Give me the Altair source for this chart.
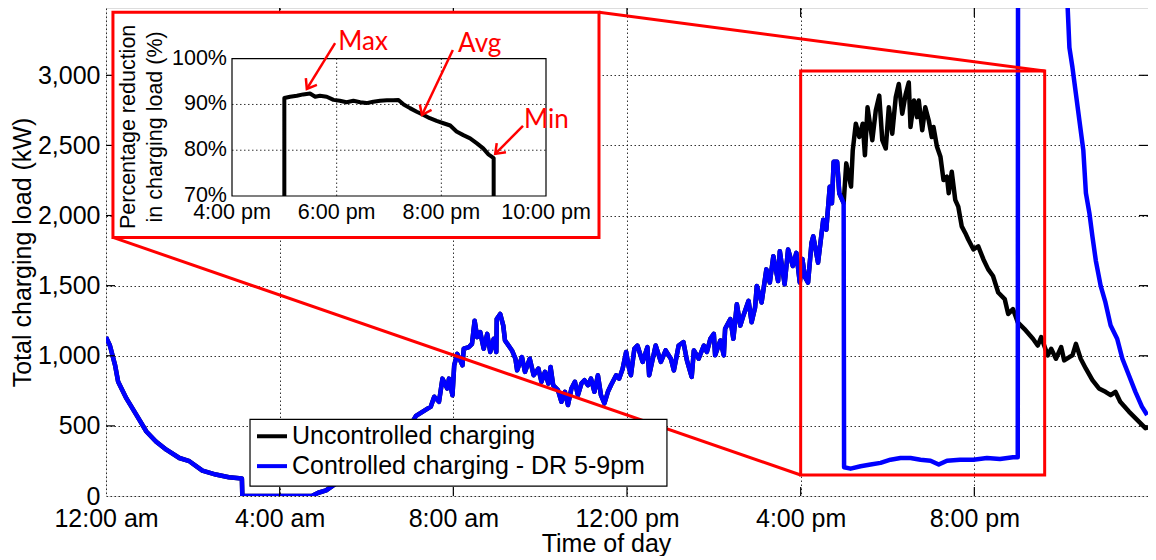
import math
import altair as alt
import pandas as pd

# ---------------- data ----------------
# Part where both series coincide (0:00 - 17:00)
common_hours = [0.00, 0.09, 0.21, 0.28, 0.47, 0.70, 0.93, 1.15, 1.39, 1.69, 1.92, 2.22, 2.53, 2.83, 3.13,
                3.14, 4.74, 4.89, 5.07, 5.30, 5.60, 5.90, 6.20, 6.50, 6.80, 7.00,
                7.14, 7.48, 7.56, 7.67, 7.75, 7.86, 7.90, 7.98, 8.02, 8.09, 8.21, 8.24, 8.36, 8.43,
                8.49, 8.55, 8.62, 8.70, 8.78, 8.85, 8.93, 8.99, 9.00, 9.08, 9.15, 9.19, 9.35, 9.43,
                9.47, 9.58, 9.65, 9.76, 9.85, 9.96, 10.03, 10.11, 10.19, 10.24, 10.30, 10.41, 10.49,
                10.57, 10.64, 10.72, 10.80, 10.87, 10.95, 11.02, 11.10, 11.17, 11.25, 11.33, 11.40,
                11.48, 11.56, 11.63, 11.75, 11.82, 11.90, 11.98, 12.04, 12.09, 12.17, 12.24, 12.36,
                12.47, 12.51, 12.66, 12.78, 12.89, 13.01, 13.08, 13.19, 13.30, 13.38, 13.49, 13.54,
                13.65, 13.77, 13.84, 13.92, 14.00, 14.03, 14.15, 14.23, 14.26, 14.38, 14.45, 14.53,
                14.61, 14.68, 14.80, 14.87, 14.95, 14.99, 15.10, 15.21, 15.29, 15.37, 15.48, 15.52,
                15.63, 15.71, 15.82, 15.90, 15.98, 16.04, 16.10, 16.17, 16.25, 16.29, 16.40, 16.52,
                16.59, 16.67, 16.72, 16.76, 16.84, 16.89, 16.99]
common_load = [1133, 1073, 932, 814, 696, 578, 460, 389, 330, 271, 248, 181, 153, 134, 125,
               0, 0, 23, 40, 90, 130, 180, 240, 320, 420, 500,
               571, 637, 708, 672, 837, 767, 837, 719, 932, 1014, 932, 1050, 1062, 1085,
               1250, 1133, 1168, 1050, 1156, 1027, 1121, 1027, 1262, 1298, 1215, 1109, 1038, 979,
               896, 991, 885, 979, 861, 908, 814, 885, 802, 920, 790, 755, 672,
               743, 649, 767, 814, 719, 802, 826, 790, 837, 743, 861, 719,
               661, 743, 790, 861, 837, 908, 1027, 920, 861, 1050, 1073, 956,
               1062, 861, 1073, 956, 1038, 979, 896, 1073, 1097, 967, 849, 1038,
               979, 1073, 1027, 1121, 1156, 1003, 1109, 1003, 1192, 1262, 1121, 1368,
               1215, 1286, 1392, 1239, 1345, 1498, 1380, 1616, 1522, 1710, 1533, 1746,
               1510, 1758, 1640, 1734, 1522, 1690, 1560, 1522, 1805, 1852, 1664, 1970,
               1899, 2206, 2088, 2383, 2383, 2159, 2088]

# Uncontrolled charging after 17:00
uncontrolled_hours = [17.05, 17.16, 17.20, 17.27, 17.35, 17.43, 17.48, 17.54, 17.65, 17.73, 17.81,
                      17.88, 17.96, 18.03, 18.11, 18.19, 18.26, 18.34, 18.42, 18.49, 18.53, 18.61,
                      18.68, 18.72, 18.80, 18.87, 18.95, 19.02, 19.06, 19.14, 19.22, 19.29, 19.37,
                      19.41, 19.48, 19.56, 19.63, 19.71, 19.79, 19.86, 19.98, 20.09, 20.21, 20.32,
                      20.43, 20.55, 20.70, 20.78, 20.89, 21.00, 21.15, 21.35, 21.46, 21.54, 21.69,
                      21.77, 21.88, 22.00, 22.07, 22.19, 22.26, 22.34, 22.45, 22.57, 22.72, 22.87,
                      23.02, 23.14, 23.25, 23.36, 23.56, 23.79, 23.94, 24.00]
uncontrolled_load = [2372, 2206, 2466, 2655, 2560, 2655, 2430, 2772, 2537, 2749, 2855,
                     2537, 2478, 2772, 2584, 2843, 2938, 2726, 2867, 2949, 2631, 2820,
                     2702, 2820, 2608, 2772, 2678, 2560, 2631, 2490, 2419, 2253, 2277,
                     2159, 2312, 2112, 2064, 1923, 1876, 1829, 1758, 1781, 1687, 1616,
                     1569, 1451, 1404, 1298, 1333, 1239, 1192, 1121, 1073, 1133, 1003,
                     1050, 979, 1062, 967, 991, 1003, 1085, 979, 908, 826, 767,
                     743, 719, 743, 672, 602, 531, 484, 490]

# Controlled charging (DR 5-9pm) after 17:00
controlled_hours = [17.00, 17.15, 17.38, 17.61, 17.84, 18.07, 18.30, 18.53, 18.76, 18.99, 19.18,
                    19.37, 19.67, 19.98, 20.29, 20.59, 20.89, 21.00, 21.01, 21.50, 22.00, 22.15,
                    22.19, 22.26, 22.34, 22.42, 22.51, 22.57, 22.65, 22.72, 22.80, 22.91, 23.02,
                    23.14, 23.29, 23.41, 23.56, 23.71, 23.86, 23.98]
controlled_load = [205, 195, 212, 224, 236, 259, 271, 271, 259, 252, 224,
                   252, 259, 259, 271, 264, 276, 276, 5600, 4900, 3950, 3480,
                   3197, 3056, 2867, 2678, 2466, 2160, 2018, 1850, 1675, 1498, 1380,
                   1215, 1121, 979, 861, 743, 637, 578]

series_names = ["Uncontrolled charging", "Controlled charging - DR 5-9pm"]
series_colors = ["#000000", "#0000ff"]

x_tick_values = [0, 4, 8, 12, 16, 20]
x_tick_labels = ["12:00 am", "4:00 am", "8:00 am", "12:00 pm", "4:00 pm", "8:00 pm"]
y_tick_values = [0, 500, 1000, 1500, 2000, 2500, 3000]

# Inset: percentage reduction in charging load
inset_hours = [17.00, 17.00, 17.11, 17.24, 17.36, 17.49, 17.59, 17.68, 17.81, 17.94, 18.06, 18.19,
               18.32, 18.45, 18.57, 18.70, 18.83, 18.96, 19.08, 19.18, 19.28, 19.40, 19.53, 19.66,
               19.78, 19.91, 20.04, 20.17, 20.29, 20.42, 20.55, 20.68, 20.80, 20.90, 21.00, 21.00]
inset_pct = [70.0, 91.4, 91.7, 91.9, 92.2, 92.4, 91.7, 91.9, 91.7, 91.0, 90.8, 90.5,
             90.8, 90.5, 90.3, 90.6, 90.8, 90.9, 90.9, 91.0, 90.0, 89.2, 88.4, 87.7,
             87.0, 86.4, 85.9, 85.4, 84.1, 83.3, 82.6, 81.5, 80.4, 79.1, 78.3, 70.0]
inset_x_values = [16, 18, 20, 22]
inset_x_labels = ["4:00 pm", "6:00 pm", "8:00 pm", "10:00 pm"]
inset_y_values = [70, 80, 90, 100]
inset_y_labels = ["70%", "80%", "90%", "100%"]
inset_title_lines = ["Percentage reduction", "in charging load (%)"]
inset_title_h = [14.14, 14.66]
inset_title_p = [85.1, 85.1]

annot_text = ["Max", "Avg", "Min"]
annot_text_h = [18.03, 20.32, 21.58]
annot_text_p = [101.9, 101.5, 84.8]
arrow_start_h = [17.97, 20.22, 21.56]
arrow_start_p = [103.4, 101.9, 85.3]
arrow_end_h = [17.43, 19.63, 21.03]
arrow_end_p = [93.4, 87.7, 79.2]

# Annotation boxes (main chart coordinates: hours, kW)
inset_box_hours = [0.16, 11.355]
inset_box_kw = [1844, 3450]
zoom_box_hours = [16.0, 21.62]
zoom_box_kw = [150, 3030]
legend_box_hours = [3.317, 12.92]
legend_box_kw = [71, 547]
legend_line_hours = [3.478, 4.169]
legend_text_hour = 4.284
legend_row_kw = [426, 213]

# ---------------- layout / style ----------------
W, H = 1042, 488
FONT = "Liberation Sans"
RED = "#ff0000"

x_scale = alt.Scale(domain=[0, 24], nice=False, zero=False)
y_scale = alt.Scale(domain=[0, 3480], nice=False, zero=False)

label_expr = " : ".join(f"datum.value == {v} ? '{l}'" for v, l in zip(x_tick_values, x_tick_labels)) + " : ''"

x_axis = alt.Axis(values=x_tick_values, labelExpr=label_expr, title="Time of day",
                  grid=True, gridColor="#000000", gridDash=[1.5, 2.5], gridOpacity=0.8, gridWidth=1,
                  domain=False, ticks=False, tickSize=0, labelPadding=10,
                  labelFont=FONT, labelFontSize=25, labelColor="#000000", labelFlush=False,
                  titleFont=FONT, titleFontSize=25, titleFontWeight="normal", titleColor="#000000",
                  titleX=500, titleY=55, titleBaseline="alphabetic", titleAlign="center")
y_axis = alt.Axis(values=y_tick_values, format=",d", title="Total charging load (kW)",
                  grid=True, gridColor="#000000", gridDash=[1.5, 2.5], gridOpacity=0.8, gridWidth=1,
                  domain=False, ticks=False, tickSize=0, labelPadding=6,
                  labelFont=FONT, labelFontSize=25, labelColor="#000000", labelFlush=False,
                  titleFont=FONT, titleFontSize=25, titleFontWeight="normal", titleColor="#000000",
                  titleAngle=270, titleX=-76, titleY=244, titleBaseline="alphabetic", titleAlign="center")


def X(f):
    return alt.X(f, type="quantitative", scale=x_scale, axis=x_axis)


def Y(f):
    return alt.Y(f, type="quantitative", scale=y_scale, axis=y_axis)


# ---------------- main data frames ----------------
unc_h = common_hours + uncontrolled_hours
unc_l = common_load + uncontrolled_load
ctl_h = common_hours + controlled_hours
ctl_l = common_load + controlled_load
df_unc = pd.DataFrame({"hour": unc_h, "kW": unc_l, "idx": range(len(unc_h))})
df_ctl = pd.DataFrame({"hour": ctl_h, "kW": ctl_l, "idx": range(len(ctl_h))})

line_unc = alt.Chart(df_unc).mark_line(color=series_colors[0], strokeWidth=4.5, clip=True,
                                       strokeJoin="round").encode(
    x=X("hour"), y=Y("kW"), order="idx:Q")
line_ctl = alt.Chart(df_ctl).mark_line(color=series_colors[1], strokeWidth=4.5, clip=True,
                                       strokeJoin="round").encode(
    x=X("hour"), y=Y("kW"), order="idx:Q")

# inward ticks (MATLAB style)
df_xt = pd.DataFrame({"hour": x_tick_values[1:]})
df_yt = pd.DataFrame({"kW": y_tick_values[1:]})
tick_style = dict(color="#000000", strokeWidth=1.2)
ticks = [
    alt.Chart(df_xt).mark_rule(**tick_style).encode(x=X("hour"), y=alt.value(H), y2=alt.value(H - 9)),
    alt.Chart(df_xt).mark_rule(**tick_style).encode(x=X("hour"), y=alt.value(0), y2=alt.value(9)),
    alt.Chart(df_yt).mark_rule(**tick_style).encode(y=Y("kW"), x=alt.value(0), x2=alt.value(9)),
    alt.Chart(df_yt).mark_rule(**tick_style).encode(y=Y("kW"), x=alt.value(W), x2=alt.value(W - 9)),
]

df_inset_box = pd.DataFrame({"h0": [inset_box_hours[0]], "h1": [inset_box_hours[1]],
                             "k0": [inset_box_kw[0]], "k1": [inset_box_kw[1]]})
inset_bg = alt.Chart(df_inset_box).mark_rect(fill="#ffffff", stroke=RED, strokeWidth=3).encode(
    x=X("h0"), x2="h1", y=Y("k0"), y2="k1")

df_zoom_box = pd.DataFrame({"h0": [zoom_box_hours[0]], "h1": [zoom_box_hours[1]],
                            "k0": [zoom_box_kw[0]], "k1": [zoom_box_kw[1]]})
zoom_rect = alt.Chart(df_zoom_box).mark_rect(fillOpacity=0, stroke=RED, strokeWidth=3).encode(
    x=X("h0"), x2="h1", y=Y("k0"), y2="k1")

df_conn = pd.DataFrame({
    "h0": [inset_box_hours[1], inset_box_hours[0]],
    "k0": [inset_box_kw[1], inset_box_kw[0]],
    "h1": [zoom_box_hours[1], zoom_box_hours[0]],
    "k1": [zoom_box_kw[1], zoom_box_kw[0]],
})
connectors = alt.Chart(df_conn).mark_rule(color=RED, strokeWidth=3).encode(
    x=X("h0"), y=Y("k0"), x2="h1", y2="k1")

df_leg_box = pd.DataFrame({"h0": [legend_box_hours[0]], "h1": [legend_box_hours[1]],
                           "k0": [legend_box_kw[0]], "k1": [legend_box_kw[1]]})
legend_box = alt.Chart(df_leg_box).mark_rect(fill="#ffffff", stroke="#000000", strokeWidth=1.2).encode(
    x=X("h0"), x2="h1", y=Y("k0"), y2="k1")
df_leg = pd.DataFrame({"h0": [legend_line_hours[0]] * 2, "h1": [legend_line_hours[1]] * 2,
                       "ht": [legend_text_hour] * 2, "kW": legend_row_kw,
                       "name": series_names, "color": series_colors})
legend_lines = alt.Chart(df_leg).mark_rule(strokeWidth=4).encode(
    x=X("h0"), x2="h1", y=Y("kW"), color=alt.Color("color:N", scale=None))
legend_text = alt.Chart(df_leg).mark_text(align="left", baseline="middle", font=FONT, fontSize=25,
                                          color="#000000").encode(
    x=X("ht"), y=Y("kW"), text="name:N")

main = alt.layer(line_unc, line_ctl, *ticks, inset_bg, zoom_rect, connectors,
                 legend_box, legend_lines, legend_text)

# ---------------- inset ----------------
ix_scale = alt.Scale(domain=[16, 22], range=[126, 440], nice=False, zero=False)
iy_scale = alt.Scale(domain=[70, 100], range=[188, 50.7], nice=False, zero=False)
px_h = (440 - 126) / (22 - 16)
px_p = (188 - 50.7) / (100 - 70)


def IX(f):
    return alt.X(f, type="quantitative", scale=ix_scale, axis=None)


def IY(f):
    return alt.Y(f, type="quantitative", scale=iy_scale, axis=None)


grid_style = dict(color="#000000", strokeWidth=1, strokeDash=[1.5, 2.5], opacity=0.8)
df_igx = pd.DataFrame({"ih": inset_x_values[1:-1], "p0": inset_y_values[0], "p1": inset_y_values[-1]})
df_igy = pd.DataFrame({"ip": inset_y_values[1:-1], "h0": inset_x_values[0], "h1": inset_x_values[-1]})
igrid_x = alt.Chart(df_igx).mark_rule(**grid_style).encode(x=IX("ih"), y=IY("p0"), y2="p1")
igrid_y = alt.Chart(df_igy).mark_rule(**grid_style).encode(y=IY("ip"), x=IX("h0"), x2="h1")

df_iframe = pd.DataFrame({"h0": [inset_x_values[0]], "h1": [inset_x_values[-1]],
                          "p0": [inset_y_values[0]], "p1": [inset_y_values[-1]]})
iframe = alt.Chart(df_iframe).mark_rect(fillOpacity=0, stroke="#000000", strokeWidth=1.2).encode(
    x=IX("h0"), x2="h1", y=IY("p0"), y2="p1")

df_iline = pd.DataFrame({"ih": inset_hours, "ip": inset_pct, "idx": range(len(inset_hours))})
iline = alt.Chart(df_iline).mark_line(color="#000000", strokeWidth=4, strokeJoin="round").encode(
    x=IX("ih"), y=IY("ip"), order="idx:Q")

df_ixl = pd.DataFrame({"ih": inset_x_values, "ip": inset_y_values[0], "t": inset_x_labels})
ixlabels = alt.Chart(df_ixl).mark_text(align="center", baseline="alphabetic", dy=23, font=FONT,
                                       fontSize=21.5, color="#000000").encode(
    x=IX("ih"), y=IY("ip"), text="t:N")
df_iyl = pd.DataFrame({"ip": inset_y_values, "ih": inset_x_values[0], "t": inset_y_labels})
iylabels = alt.Chart(df_iyl).mark_text(align="right", baseline="middle", dx=-5, font=FONT,
                                       fontSize=21.5, color="#000000").encode(
    x=IX("ih"), y=IY("ip"), text="t:N")
df_ititle = pd.DataFrame({"ih": inset_title_h, "ip": inset_title_p, "t": inset_title_lines})
ititle = alt.Chart(df_ititle).mark_text(angle=270, align="center", baseline="alphabetic", font=FONT,
                                        fontSize=21.5, color="#000000").encode(
    x=IX("ih"), y=IY("ip"), text="t:N")

angles = []
for sh, sp, eh, ep in zip(arrow_start_h, arrow_start_p, arrow_end_h, arrow_end_p):
    dx = (eh - sh) * px_h
    dy = -(ep - sp) * px_p
    angles.append(math.degrees(math.atan2(dx, -dy)) % 360)
df_arrow = pd.DataFrame({"h0": arrow_start_h, "p0": arrow_start_p, "h1": arrow_end_h,
                         "p1": arrow_end_p, "ang": angles})
arrow_shaft = alt.Chart(df_arrow).mark_rule(color=RED, strokeWidth=2.5).encode(
    x=IX("h0"), y=IY("p0"), x2="h1", y2="p1")
arrow_head = alt.Chart(df_arrow).mark_point(shape="M -0.75 1 L 0 0 L 0.75 1", filled=False,
                                            color=RED, strokeWidth=2.5, size=300, opacity=1).encode(
    x=IX("h1"), y=IY("p1"), angle=alt.Angle("ang:Q", scale=None))
df_annot = pd.DataFrame({"ih": annot_text_h, "ip": annot_text_p, "t": annot_text})
annot = alt.Chart(df_annot).mark_text(align="left", baseline="alphabetic", font="Lato", fontSize=26,
                                      color=RED).encode(x=IX("ih"), y=IY("ip"), text="t:N")

inset = alt.layer(igrid_x, igrid_y, iframe, iline, ixlabels, iylabels, ititle,
                  arrow_shaft, arrow_head, annot)

chart = alt.layer(main, inset).resolve_scale(x="independent", y="independent").properties(
    width=W, height=H,
    autosize=alt.AutoSizeParams(type="none"),
    padding={"left": 98, "top": 0, "right": 0, "bottom": 60},
).configure_view(stroke="#000000", strokeWidth=1.2).configure(background="#ffffff")

chart.save("out.html", embed_options={"renderer": "svg", "actions": False})
